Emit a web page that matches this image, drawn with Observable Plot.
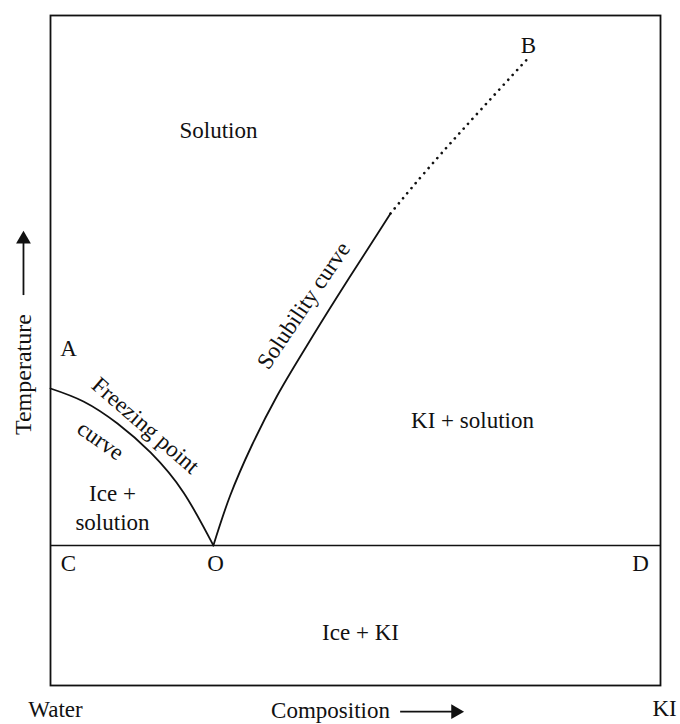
<!DOCTYPE html>
<html>
<head>
<meta charset="utf-8">
<script src="https://cdn.jsdelivr.net/npm/d3@7"></script>
<script src="https://cdn.jsdelivr.net/npm/@observablehq/plot@0.6"></script>
<style>
  html, body { margin: 0; padding: 0; background: #fff; }
  #chart svg { display: block; }
</style>
</head>
<body>
<div id="chart"></div>
<script>
// Freezing point curve A -> O (composition %, temperature units)
const freezingX = [0, 5.41, 10.98, 16.39, 21.80, 26.7];
const freezingY = [44.33, 42.39, 39.10, 34.78, 28.81, 20.90];
// Solubility curve O -> end of solid part
const solubilityX = [26.7, 29.46, 33.0, 37.18, 42.05, 47.13, 52.38, 55.74];
const solubilityY = [20.90, 28.36, 35.82, 43.28, 50.75, 58.21, 65.67, 70.45];
// Extrapolated (dotted) part -> B
const dottedX = [55.74, 64.21, 78.69];
const dottedY = [70.45, 79.55, 94.03];
// Eutectic line C-O-D
const eutecticY = 20.9;

// Labels
const labelText = ["B", "Solution", "A", "Freezing point", "curve", "Ice +", "solution",
  "Solubility curve", "KI + solution", "C", "O", "D", "Ice + KI", "Water", "Composition", "KI"];
const labelX = [78.36, 27.54, 2.95, 15.57, 8.2, 10.16, 10.16, 41.48, 69.18, 2.95, 27.05, 96.72, 50.82, 0.82, 45.9, 100.66];
const labelY = [95.52, 82.84, 50.3, 38.81, 36.57, 28.66, 24.33, 56.72, 39.55, 18.21, 18.21, 18.21, 7.91, -3.6, -3.75, -3.4];
const labelRotate = [0, 0, 0, 41, 35, 0, 0, -56, 0, 0, 0, 0, 0, 0, 0, 0];

const yLabel = "Temperature";

const freezing = freezingX.map((x, i) => ({x, y: freezingY[i]}));
const solubility = solubilityX.map((x, i) => ({x, y: solubilityY[i]}));
const dotted = dottedX.map((x, i) => ({x, y: dottedY[i]}));
const labels = labelText.map((t, i) => ({t, x: labelX[i], y: labelY[i], r: labelRotate[i]}));

const font = "Liberation Serif";

const chart = Plot.plot({
  width: 680,
  height: 724,
  marginLeft: 50,
  marginRight: 20,
  marginTop: 15,
  marginBottom: 39,
  x: {domain: [0, 100], axis: null},
  y: {domain: [0, 100], axis: null},
  style: {fontFamily: font, background: "white", overflow: "visible"},
  marks: [
    Plot.frame({stroke: "#111", strokeWidth: 1.8}),
    Plot.ruleY([eutecticY], {stroke: "#111", strokeWidth: 1.6}),
    Plot.line(freezing, {x: "x", y: "y", curve: "natural", stroke: "#111", strokeWidth: 1.8}),
    Plot.line(solubility, {x: "x", y: "y", curve: "catmull-rom", stroke: "#111", strokeWidth: 1.8}),
    Plot.line(dotted, {x: "x", y: "y", curve: "natural", stroke: "#111", strokeWidth: 2.6,
      strokeDasharray: "0.1,6.5", strokeLinecap: "round"}),
    Plot.text(labels, {x: "x", y: "y", text: "t", rotate: "r", fontSize: 23, fill: "#111",
      fontFamily: font}),
    // Temperature axis label with arrow
    Plot.text([yLabel], {x: -4.43, y: 46.4, text: d => d, rotate: -90, fontSize: 24, fill: "#111", fontFamily: font}),
    Plot.ruleX([-4.43], {y1: 58.2, y2: 66.5, stroke: "#111", strokeWidth: 1.8, clip: false}),
    Plot.dot([0], {x: -4.43, y: 66.6, symbol: "triangle", r: 5.5, fill: "#111", stroke: null, clip: false}),
    // Composition arrow
    Plot.ruleY([-3.9], {x1: 57.4, x2: 66.2, stroke: "#111", strokeWidth: 1.8, clip: false}),
    Plot.dot([0], {x: 66.4, y: -3.9, symbol: "triangle", rotate: 90, r: 5.5, fill: "#111", stroke: null, clip: false})
  ]
});

document.getElementById("chart").appendChild(chart);
</script>
</body>
</html>
